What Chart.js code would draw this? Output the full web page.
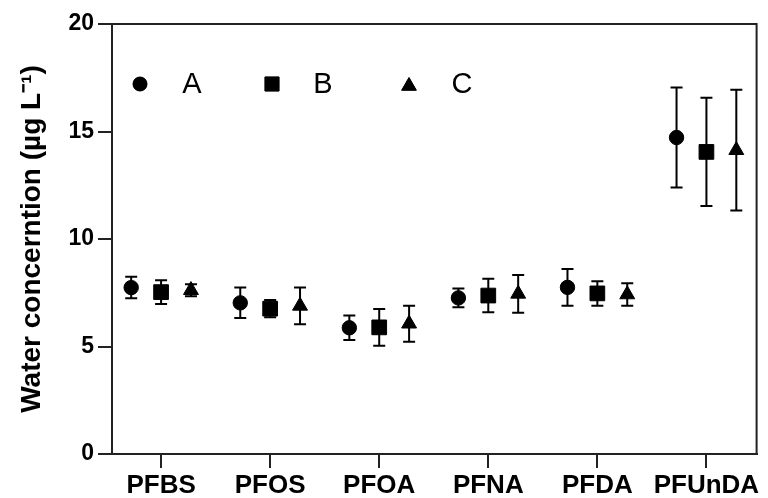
<!DOCTYPE html>
<html>
<head>
<meta charset="utf-8">
<script src="https://cdn.jsdelivr.net/npm/chart.js@4/dist/chart.umd.min.js"></script>
<style>
  html, body { margin: 0; padding: 0; background: #fff; }
  #wrap { width: 768px; height: 498px; }
</style>
</head>
<body>
<div id="wrap"><canvas id="waterChart" width="768" height="498"></canvas></div>
<script>
// data (mean and error, ug/L)
const categories = ['PFBS', 'PFOS', 'PFOA', 'PFNA', 'PFDA', 'PFUnDA'];
const seriesNames = ['A', 'B', 'C'];
const meanA = [7.74, 7.03, 5.87, 7.26, 7.75, 14.72];
const errA = [0.50, 0.71, 0.57, 0.44, 0.85, 2.33];
const meanB = [7.53, 6.76, 5.89, 7.37, 7.47, 14.05];
const errB = [0.55, 0.40, 0.85, 0.78, 0.57, 2.52];
const meanC = [7.62, 6.89, 6.06, 7.45, 7.42, 14.13];
const errC = [0.28, 0.86, 0.84, 0.88, 0.52, 2.81];
const yTicks = [0, 5, 10, 15, 20];

Chart.defaults.font.family = '"Liberation Sans", Arial, sans-serif';
Chart.defaults.color = '#000';

const INK = '#222';
const groupShift = [-0.274, 0, 0.274]; // dodge of A / B / C inside a group

function buildSet(idx, means, errs, style, radius) {
    return {
        label: seriesNames[idx],
        data: means.map((v, i) => ({ x: i + groupShift[idx], y: v })),
        errors: errs,
        pointStyle: style,
        pointRadius: radius,
        pointHoverRadius: radius,
        backgroundColor: '#000',
        borderColor: '#000',
        borderWidth: 1,
        showLine: false
    };
}

// error bars with caps, drawn under the markers
const errorBars = {
    id: 'errorBars',
    beforeDatasetsDraw(chart) {
        const ctx = chart.ctx;
        const ys = chart.scales.y;
        ctx.save();
        ctx.strokeStyle = '#000';
        ctx.lineWidth = 2;
        chart.data.datasets.forEach((ds, di) => {
            const meta = chart.getDatasetMeta(di);
            meta.data.forEach((pt, i) => {
                const m = ds.data[i].y, e = ds.errors[i];
                const top = ys.getPixelForValue(m + e);
                const bot = ys.getPixelForValue(m - e);
                ctx.beginPath();
                ctx.moveTo(pt.x, top); ctx.lineTo(pt.x, bot);
                ctx.moveTo(pt.x - 6, top); ctx.lineTo(pt.x + 6, top);
                ctx.moveTo(pt.x - 6, bot); ctx.lineTo(pt.x + 6, bot);
                ctx.stroke();
            });
        });
        ctx.restore();
    }
};

// closed frame + legend inside the plot area
const frameAndKey = {
    id: 'frameAndKey',
    afterDraw(chart) {
        const ctx = chart.ctx;
        const a = chart.chartArea;
        ctx.save();
        ctx.strokeStyle = INK;
        ctx.lineWidth = 2;
        ctx.beginPath();
        ctx.moveTo(a.left, a.top); ctx.lineTo(a.right, a.top); ctx.lineTo(a.right, a.bottom);
        ctx.stroke();

        const markX = [28, 160, 297];
        const textX = [80, 211, 350];
        const sizes = [7, 10, 8.5];
        const keyY = a.top + 60;
        chart.data.datasets.forEach((ds, i) => {
            ctx.fillStyle = '#000';
            ctx.strokeStyle = '#000';
            ctx.lineWidth = 1;
            Chart.helpers.drawPoint(ctx, { pointStyle: ds.pointStyle, radius: sizes[i], borderWidth: 1 },
                a.left + markX[i], keyY + (ds.pointStyle === 'triangle' ? 2 : 0));
            ctx.fill();
            ctx.font = '29px "Liberation Sans", Arial, sans-serif';
            ctx.textAlign = 'center';
            ctx.textBaseline = 'middle';
            ctx.fillText(ds.label, a.left + textX[i], keyY + 1);
        });
        ctx.restore();
    }
};

new Chart(document.getElementById('waterChart'), {
    type: 'scatter',
    data: {
        datasets: [
            buildSet(0, meanA, errA, 'circle', 7.2),
            buildSet(1, meanB, errB, 'rect', 10.4),
            buildSet(2, meanC, errC, 'triangle', 8.6)
        ]
    },
    options: {
        responsive: false,
        animation: false,
        layout: { padding: { top: 24, right: 8, left: 0, bottom: 0 } },
        plugins: { legend: { display: false }, tooltip: { enabled: false } },
        scales: {
            x: {
                type: 'linear',
                min: -0.45,
                max: 5.46,
                afterBuildTicks: (s) => { s.ticks = categories.map((c, i) => ({ value: i })); },
                afterFit: (s) => { s.height = 44; },
                ticks: {
                    callback: (v) => categories[v],
                    font: { size: 26, weight: 'bold' },
                    padding: 2,
                    maxRotation: 0,
                    autoSkip: false
                },
                grid: { drawOnChartArea: false, drawTicks: true, tickLength: 14, color: INK, lineWidth: 2 },
                border: { display: true, color: INK, width: 2 }
            },
            y: {
                min: 0,
                max: 20,
                afterBuildTicks: (s) => { s.ticks = yTicks.map(v => ({ value: v })); },
                afterFit: (s) => { s.width = 112; },
                ticks: { font: { size: 23, weight: 'bold' }, padding: 4 },
                grid: { drawOnChartArea: false, drawTicks: true, tickLength: 14, color: INK, lineWidth: 2 },
                border: { display: true, color: INK, width: 2 },
                title: {
                    display: true,
                    text: 'Water concerntion (µg L⁻¹)',
                    font: { size: 28, weight: 'bold' },
                    padding: { top: 15, bottom: 0 }
                }
            }
        }
    },
    plugins: [errorBars, frameAndKey]
});
</script>
</body>
</html>
